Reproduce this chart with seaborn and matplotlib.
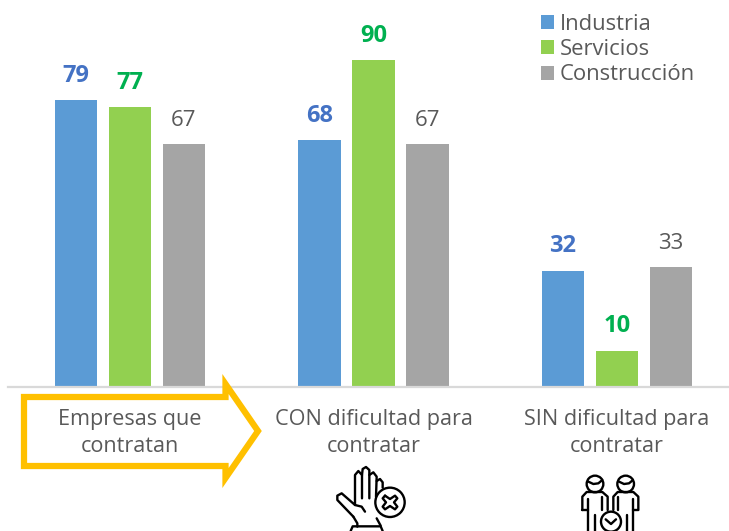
import pandas as pd
import seaborn as sns
import matplotlib.pyplot as plt
from matplotlib.patches import Polygon, Circle

# Datos
grupos = ["Empresas que\ncontratan", "CON dificultad para\ncontratar", "SIN dificultad para\ncontratar"]
industria = [79, 68, 32]
servicios = [77, 90, 10]
construccion = [67, 67, 33]
sectores = ["Industria", "Servicios", "Construcción"]
colores = ["#5B9BD5", "#92D050", "#A5A5A5"]
colores_texto = ["#4472C4", "#00B050", "#595959"]

df = pd.DataFrame({"grupo": grupos, "Industria": industria, "Servicios": servicios, "Construcción": construccion})
df = df.melt(id_vars="grupo", var_name="sector", value_name="valor")

sns.set_theme(style="white")
plt.rcParams["font.family"] = ["Open Sans", "DejaVu Sans"]

W, H = 729, 531
base = 387
fig = plt.figure(figsize=(W / 100, H / 100), dpi=100)
ax = fig.add_axes([8 / W, (H - base) / H, (W - 8) / W, base / H])

sns.barplot(data=df, x="grupo", y="valor", hue="sector", hue_order=sectores, palette=colores,
            saturation=1, width=0.665, gap=0.21, linewidth=0, ax=ax)

# eje: 243.5 px entre grupos, 3.63 px por unidad
ax.set_xlim((8 - 130) / 243.5, (W - 130) / 243.5)
ax.set_ylim(0, base / 3.63)
ax.set_xlabel("")
ax.set_ylabel("")
ax.set_yticks([])
ax.tick_params(axis="x", length=0, pad=15.5, labelsize=15.6, labelcolor="#595959")
for lab in ax.get_xticklabels():
    lab.set_linespacing(1.38)
sns.despine(ax=ax, left=True)
ax.spines["bottom"].set_color("#D9D9D9")
ax.spines["bottom"].set_linewidth(1.6)

for cont, col in zip(ax.containers, colores_texto):
    if col == "#595959":
        ax.bar_label(cont, color=col, fontsize=16, padding=9.5)
    else:
        ax.bar_label(cont, color=col, fontweight="bold", fontsize=17, padding=9)

ax.legend(loc="upper left", bbox_to_anchor=((521 - 8) / (W - 8), 1.016), frameon=False, fontsize=15.8,
          labelcolor="#595959", handlelength=0.6, handleheight=0.6, handletextpad=0.27,
          labelspacing=0.2, borderaxespad=0.6, borderpad=0.3)

# capa en pixeles para flecha e iconos
ov = fig.add_axes([0, 0, 1, 1], facecolor="none")
ov.set_xlim(0, W)
ov.set_ylim(H, 0)
ov.axis("off")

flecha = [(24, 397), (225.5, 397), (225.5, 384), (258, 431), (225.5, 478), (225.5, 466), (24, 466)]
ov.add_patch(Polygon(flecha, closed=True, fill=False, edgecolor="#FFC000", linewidth=4.5, joinstyle="miter"))


def trazo(puntos, x0, y0):
    xs = [x0 + p[0] / 3 for p in puntos]
    ys = [y0 + p[1] / 3 for p in puntos]
    ov.plot(xs, ys, color="black", lw=1.7, solid_capstyle="round", solid_joinstyle="round", clip_on=True)


def circulo(cx, cy, r, x0, y0):
    ov.add_patch(Circle((x0 + cx / 3, y0 + cy / 3), r / 3, fill=False, edgecolor="black", lw=1.7))


# mano
mx, my = 320, 455
trazo([(100, 185), (52, 135), (52, 122), (65, 115), (105, 150), (105, 60), (115, 48), (126, 60), (126, 130)], mx, my)
trazo([(126, 60), (128, 42), (138, 36), (148, 45), (148, 130)], mx, my)
trazo([(148, 60), (160, 52), (170, 65), (168, 125)], mx, my)
trazo([(170, 78), (180, 72), (188, 82), (188, 98)], mx, my)
trazo([(100, 185), (112, 205), (112, 215)], mx, my)
trazo([(105, 150), (125, 155), (135, 170)], mx, my)
trazo([(170, 190), (182, 212)], mx, my)
trazo([(92, 228), (98, 214), (182, 214), (188, 228)], mx, my)
circulo(210, 142, 44, mx, my)
trazo([(195, 122), (210, 132), (225, 122), (232, 130), (222, 142), (232, 155), (225, 163), (210, 153), (195, 163), (188, 155), (198, 142), (188, 130), (195, 122)], mx, my)

# personas
px, py = 565, 460
circulo(90, 72, 25, px, py)
circulo(182, 72, 25, px, py)
trazo([(68, 64), (85, 72), (100, 70), (112, 60)], px, py)
trazo([(160, 64), (177, 72), (192, 70), (204, 60)], px, py)
trazo([(52, 150), (52, 110), (65, 96), (112, 96), (128, 110), (128, 150)], px, py)
trazo([(145, 150), (145, 110), (158, 96), (205, 96), (220, 110), (220, 150)], px, py)
trazo([(70, 118), (70, 213)], px, py)
trazo([(112, 112), (112, 150)], px, py)
trazo([(160, 112), (160, 150)], px, py)
trazo([(203, 118), (203, 213)], px, py)
trazo([(52, 150), (70, 150)], px, py)
trazo([(203, 150), (220, 150)], px, py)
trazo([(90, 165), (90, 213)], px, py)
trazo([(185, 165), (185, 213)], px, py)
circulo(138, 185, 30, px, py)
trazo([(122, 178), (138, 192), (153, 178)], px, py)

fig.savefig("out.png", dpi=100)
